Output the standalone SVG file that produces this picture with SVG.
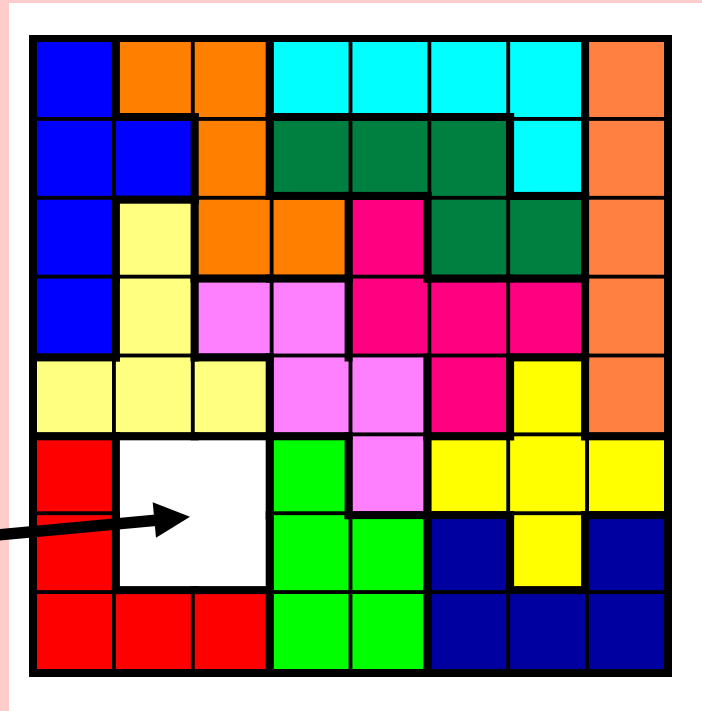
<svg xmlns="http://www.w3.org/2000/svg" width="702" height="711" viewBox="0 0 702 711">
<style>
.bl{fill:#0000ff}.or{fill:#ff8000}.cy{fill:#00ffff}.co{fill:#ff8040}.gr{fill:#008040}
.ly{fill:#ffff80}.pk{fill:#ff80ff}.mg{fill:#ff0080}.ye{fill:#ffff00}.rd{fill:#ff0000}
.wh{fill:#ffffff}.li{fill:#00ff00}.nv{fill:#0000a0}
.tk{fill:#000000}
</style>
<rect x="0" y="0" width="702" height="711" fill="#ffffff"/>
<rect x="0" y="0" width="702" height="3" fill="#ffcccc"/>
<rect x="0" y="0" width="9" height="711" fill="#ffcccc"/>
<rect id="frame" x="29" y="35" width="643" height="642" fill="#000000"/>
<g id="blue" class="bl">
<rect x="37" y="42" width="75" height="75"/><rect x="37" y="120.86" width="75" height="75"/><rect x="37" y="199.71" width="75" height="75"/><rect x="37" y="278.57" width="75" height="75"/><rect x="115.86" y="120.86" width="75" height="75"/>
</g>
<g id="orange" class="or">
<rect x="115.86" y="42" width="75" height="75"/><rect x="194.71" y="42" width="75" height="75"/><rect x="194.71" y="120.86" width="75" height="75"/><rect x="194.71" y="199.71" width="75" height="75"/><rect x="273.57" y="199.71" width="75" height="75"/>
</g>
<g id="cyan" class="cy">
<rect x="273.57" y="42" width="75" height="75"/><rect x="352.43" y="42" width="75" height="75"/><rect x="431.29" y="42" width="75" height="75"/><rect x="510.14" y="42" width="75" height="75"/><rect x="510.14" y="120.86" width="75" height="75"/>
</g>
<g id="coral" class="co">
<rect x="589" y="42" width="75" height="75"/><rect x="589" y="120.86" width="75" height="75"/><rect x="589" y="199.71" width="75" height="75"/><rect x="589" y="278.57" width="75" height="75"/><rect x="589" y="357.43" width="75" height="75"/>
</g>
<g id="green" class="gr">
<rect x="273.57" y="120.86" width="75" height="75"/><rect x="352.43" y="120.86" width="75" height="75"/><rect x="431.29" y="120.86" width="75" height="75"/><rect x="431.29" y="199.71" width="75" height="75"/><rect x="510.14" y="199.71" width="75" height="75"/>
</g>
<g id="lightyellow" class="ly">
<rect x="115.86" y="199.71" width="75" height="75"/><rect x="115.86" y="278.57" width="75" height="75"/><rect x="37" y="357.43" width="75" height="75"/><rect x="115.86" y="357.43" width="75" height="75"/><rect x="194.71" y="357.43" width="75" height="75"/>
</g>
<g id="pink" class="pk">
<rect x="194.71" y="278.57" width="75" height="75"/><rect x="273.57" y="278.57" width="75" height="75"/><rect x="273.57" y="357.43" width="75" height="75"/><rect x="352.43" y="357.43" width="75" height="75"/><rect x="352.43" y="436.29" width="75" height="75"/>
</g>
<g id="magenta" class="mg">
<rect x="352.43" y="199.71" width="75" height="75"/><rect x="352.43" y="278.57" width="75" height="75"/><rect x="431.29" y="278.57" width="75" height="75"/><rect x="510.14" y="278.57" width="75" height="75"/><rect x="431.29" y="357.43" width="75" height="75"/>
</g>
<g id="yellow" class="ye">
<rect x="510.14" y="357.43" width="75" height="75"/><rect x="431.29" y="436.29" width="75" height="75"/><rect x="510.14" y="436.29" width="75" height="75"/><rect x="589" y="436.29" width="75" height="75"/><rect x="510.14" y="515.14" width="75" height="75"/>
</g>
<g id="red" class="rd">
<rect x="37" y="436.29" width="75" height="75"/><rect x="37" y="515.14" width="75" height="75"/><rect x="37" y="594" width="75" height="75"/><rect x="115.86" y="594" width="75" height="75"/><rect x="194.71" y="594" width="75" height="75"/>
</g>
<g id="hole" class="wh">
<rect x="115.86" y="436.29" width="153.85" height="153.85"/>
</g>
<g id="lime" class="li">
<rect x="273.57" y="436.29" width="75" height="75"/><rect x="273.57" y="515.14" width="75" height="75"/><rect x="352.43" y="515.14" width="75" height="75"/><rect x="273.57" y="594" width="75" height="75"/><rect x="352.43" y="594" width="75" height="75"/>
</g>
<g id="navy" class="nv">
<rect x="431.29" y="515.14" width="75" height="75"/><rect x="589" y="515.14" width="75" height="75"/><rect x="431.29" y="594" width="75" height="75"/><rect x="510.14" y="594" width="75" height="75"/><rect x="589" y="594" width="75" height="75"/>
</g>
<g id="borders" class="tk">
<!-- vertical -->
<rect x="111.9" y="35" width="8" height="86"/><rect x="265.7" y="35" width="8" height="86"/><rect x="581.1" y="35" width="8" height="86"/>
<rect x="190.7" y="113" width="8" height="90.7"/><rect x="265.7" y="113" width="8" height="86.9"/><rect x="506.1" y="113" width="8" height="86.9"/><rect x="581.1" y="113" width="8" height="86.9"/>
<rect x="111.9" y="195.7" width="8" height="86.9"/><rect x="190.7" y="195.7" width="8" height="86.9"/><rect x="344.6" y="191.9" width="8" height="90.7"/><rect x="423.4" y="191.9" width="8" height="90.7"/><rect x="581.1" y="191.9" width="8" height="90.7"/>
<rect x="111.9" y="274.6" width="8" height="86.9"/><rect x="190.7" y="274.6" width="8" height="86.9"/><rect x="344.6" y="274.6" width="8" height="86.9"/><rect x="581.1" y="274.6" width="8" height="86.9"/>
<rect x="265.7" y="353.4" width="8" height="86.9"/><rect x="423.4" y="353.4" width="8" height="86.9"/><rect x="506.1" y="353.4" width="8" height="86.9"/><rect x="581.1" y="353.4" width="8" height="86.9"/>
<rect x="111.9" y="432.3" width="8" height="86.9"/><rect x="265.7" y="432.3" width="8" height="86.9"/><rect x="344.6" y="432.3" width="8" height="86.9"/><rect x="423.4" y="432.3" width="8" height="86.9"/>
<rect x="111.9" y="511.1" width="8" height="83"/><rect x="265.7" y="511.1" width="8" height="83"/><rect x="423.4" y="511.1" width="8" height="83"/><rect x="506.1" y="511.1" width="8" height="83"/><rect x="581.1" y="511.1" width="8" height="83"/>
<rect x="265.7" y="586.1" width="8" height="90.9"/><rect x="423.4" y="586.1" width="8" height="90.9"/>
<!-- horizontal -->
<rect x="111.9" y="113" width="86.9" height="8"/><rect x="265.7" y="113" width="86.9" height="8"/><rect x="344.6" y="113" width="86.9" height="8"/><rect x="423.4" y="113" width="90.7" height="8"/>
<rect x="111.9" y="195.7" width="86.9" height="8"/><rect x="265.7" y="191.9" width="86.9" height="8"/><rect x="344.6" y="191.9" width="86.9" height="8"/><rect x="506.1" y="191.9" width="83" height="8"/>
<rect x="190.7" y="274.6" width="83" height="8"/><rect x="265.7" y="274.6" width="86.9" height="8"/><rect x="423.4" y="274.6" width="90.7" height="8"/><rect x="506.1" y="274.6" width="83" height="8"/>
<rect x="29" y="353.4" width="90.9" height="8"/><rect x="190.7" y="353.4" width="83" height="8"/><rect x="506.1" y="353.4" width="83" height="8"/>
<rect x="29" y="432.3" width="90.9" height="8"/><rect x="111.9" y="432.3" width="86.9" height="8"/><rect x="190.7" y="432.3" width="83" height="8"/><rect x="265.7" y="432.3" width="86.9" height="8"/><rect x="423.4" y="432.3" width="90.7" height="8"/><rect x="581.1" y="432.3" width="90.9" height="8"/>
<rect x="344.6" y="511.1" width="86.9" height="8"/><rect x="423.4" y="511.1" width="90.7" height="8"/><rect x="581.1" y="511.1" width="90.9" height="8"/>
<rect x="111.9" y="586.1" width="86.9" height="8"/><rect x="190.7" y="586.1" width="83" height="8"/><rect x="506.1" y="586.1" width="83" height="8"/>
</g>
<g id="connectors">
<line x1="-20" y1="536.6" x2="156" y2="520.2" stroke="#000000" stroke-width="11.5"/>
<polygon points="190,516.7 152.7,502.3 156,537.7" fill="#000000"/>
</g>
</svg>
